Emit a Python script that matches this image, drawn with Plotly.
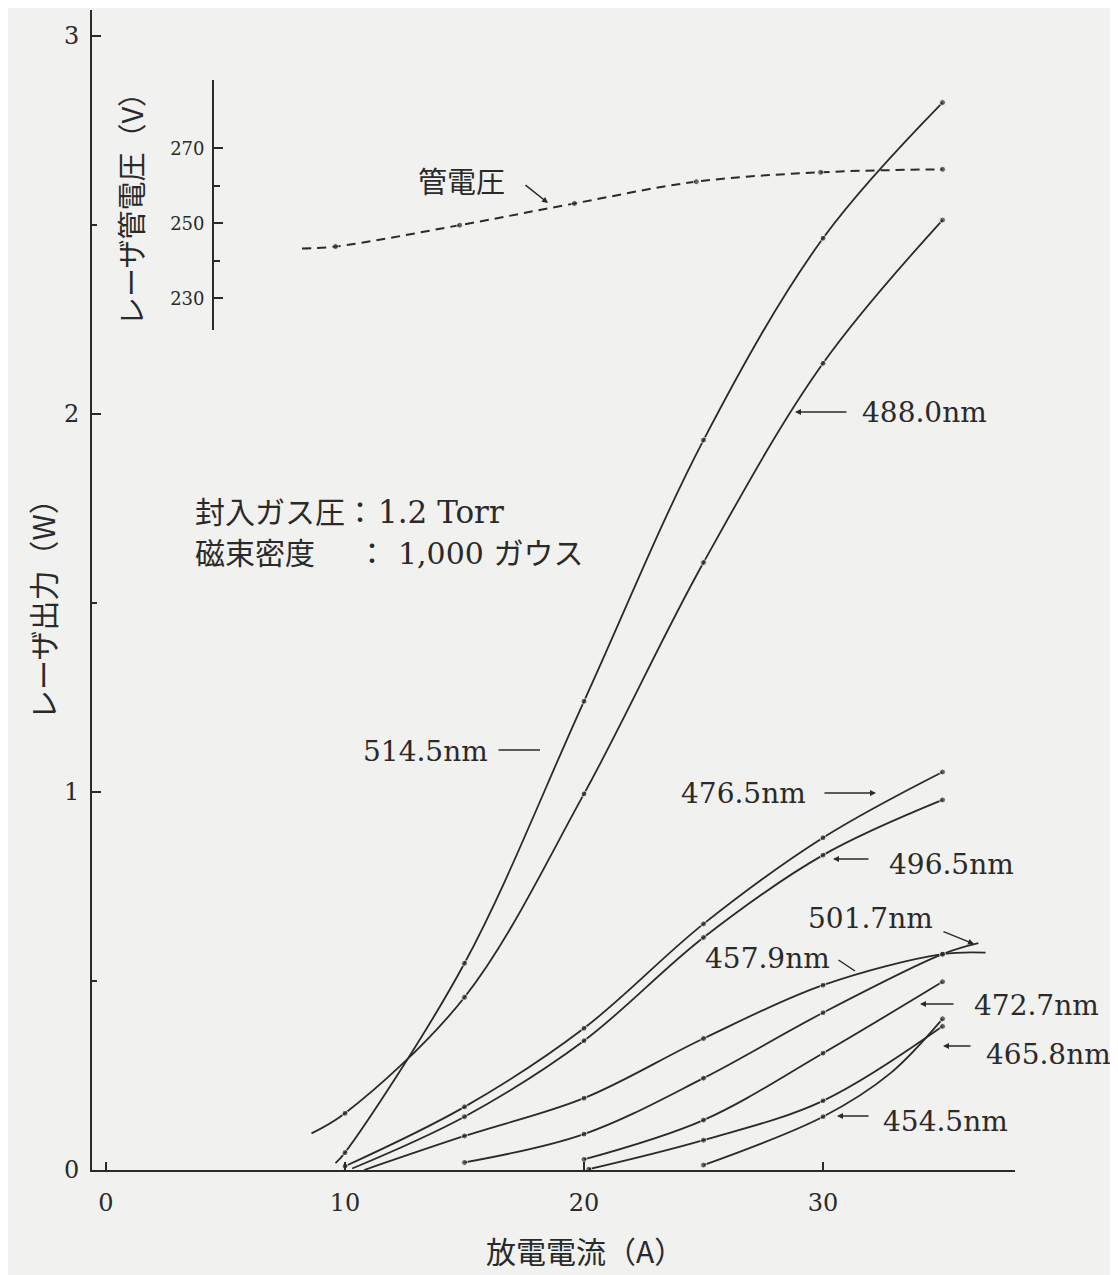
import plotly.graph_objects as go

# ---------------- data ----------------
# laser output power (W) vs discharge current (A)
x_488 = [8.6, 10, 15, 20, 25, 30, 35]
y_488 = [0.097, 0.15, 0.457, 0.995, 1.607, 2.134, 2.513]

x_514 = [9.6, 10, 15, 20, 25, 30, 35]
y_514 = [0.018, 0.046, 0.547, 1.24, 1.931, 2.465, 2.824]

x_476 = [10, 15, 20, 25, 30, 35]
y_476 = [0.01, 0.167, 0.375, 0.651, 0.879, 1.053]

x_496 = [10.3, 15, 20, 25, 30, 35]
y_496 = [0.004, 0.141, 0.342, 0.615, 0.833, 0.979]

x_457 = [10.8, 15, 20, 25, 30, 35, 36.8]
y_457 = [0.0, 0.09, 0.19, 0.348, 0.489, 0.571, 0.575]

x_501 = [15, 20, 25, 30, 35, 36.5]
y_501 = [0.02, 0.095, 0.243, 0.416, 0.571, 0.60]

x_472 = [20, 25, 30, 35]
y_472 = [0.028, 0.132, 0.309, 0.498]

x_465 = [20.2, 25, 30, 35]
y_465 = [0.002, 0.079, 0.183, 0.38]

x_454 = [25, 30, 32.8, 35]
y_454 = [0.013, 0.141, 0.255, 0.40]

# tube voltage (V) vs discharge current (A)
x_volt = [8.2, 9.6, 14.8, 19.6, 24.7, 29.9, 35.0]
y_volt = [243.3, 243.8, 249.5, 255.3, 261.1, 263.6, 264.4]

# indices of points that are only line (no measured dot)
series = [
    ("488.0nm", x_488, y_488, [0]),
    ("514.5nm", x_514, y_514, [0]),
    ("476.5nm", x_476, y_476, []),
    ("496.5nm", x_496, y_496, [0]),
    ("457.9nm", x_457, y_457, [0, 6]),
    ("501.7nm", x_501, y_501, [5]),
    ("472.7nm", x_472, y_472, []),
    ("465.8nm", x_465, y_465, []),
    ("454.5nm", x_454, y_454, [2]),
]
volt_unmarked = [0]

x_ticks = [0, 10, 20, 30]
y_ticks = [0, 1, 2, 3]
v_ticks = [230, 250, 270]

# ---------------- styling / layout ----------------
OFF = 8                       # page body margin of the html page
W, H = 1118 - OFF, 1275 - OFF
PL, PR, PT, PB = 92, 1015, 10, 1170   # plot area in reference pixels
INK = "#2a2a2a"
BG = "#f1f1ef"
LATIN = "DejaVu Serif, Noto Sans CJK JP"
CJK = "Noto Sans CJK JP, DejaVu Serif"


def px(xp, yp):
    return (xp - PL) / (PR - PL), (PB - yp) / (PB - PT)


fig = go.Figure()

for name, xs, ys, skip in series:
    sizes = [0 if i in skip else 6 for i in range(len(xs))]
    fig.add_trace(go.Scatter(
        x=xs, y=ys, name=name, mode="lines+markers",
        line=dict(color=INK, width=1.8, shape="spline", smoothing=1.0),
        marker=dict(color=INK, size=sizes),
        showlegend=False, cliponaxis=False))

fig.add_trace(go.Scatter(
    x=x_volt, y=y_volt, name="管電圧", mode="lines+markers",
    xaxis="x", yaxis="y2",
    line=dict(color=INK, width=2, dash="9px,6px", shape="spline"),
    marker=dict(color=INK, size=[0 if i in volt_unmarked else 6 for i in range(len(x_volt))]),
    showlegend=False, cliponaxis=False))

x0 = 106
sx = 23.9
sy = 378.0
x_range = [(PL - x0) / sx, (PR - x0) / sx]
y_range = [0, (PB - PT) / sy]

# inset voltage axis: 270 at y=148, 250 at y=223.3, 230 at y=298.3 px
v_per_px = 20 / 75.0
inset_top, inset_bot = 80, 330
v_range = [250 - (inset_bot - 223.3) * v_per_px, 250 + (223.3 - inset_top) * v_per_px]
dom = [(PB - inset_bot) / (PB - PT), (PB - inset_top) / (PB - PT)]

fig.update_layout(
    width=W, height=H,
    margin=dict(l=PL - OFF, r=W - (PR - OFF), t=PT - OFF, b=H - (PB - OFF)),
    paper_bgcolor=BG, plot_bgcolor="rgba(0,0,0,0)",
    font=dict(family=LATIN, color=INK),
    xaxis=dict(range=x_range, tickvals=x_ticks, ticktext=[str(v) for v in x_ticks],
               ticks="inside", ticklen=8, tickwidth=1.5, tickcolor=INK,
               showline=True, linecolor=INK, linewidth=2, showgrid=False, zeroline=False,
               tickfont=dict(family=LATIN, size=24, color=INK), ticklabelstandoff=10),
    yaxis=dict(range=y_range, tickvals=y_ticks, ticktext=[str(v) for v in y_ticks],
               ticks="inside", ticklen=9, tickwidth=1.5, tickcolor=INK,
               minor=dict(tickvals=[0.5, 1.5, 2.5], ticks="inside", ticklen=5, tickcolor=INK),
               showline=True, linecolor=INK, linewidth=2, showgrid=False, zeroline=False,
               tickfont=dict(family=LATIN, size=24, color=INK), ticklabelstandoff=6),
    yaxis2=dict(domain=dom, range=v_range, anchor="free", position=(213 - PL) / (PR - PL),
                side="left", tickvals=v_ticks, ticktext=[str(v) for v in v_ticks],
                ticks="inside", ticklen=9, tickwidth=1.5, tickcolor=INK,
                minor=dict(tickvals=[240, 260], ticks="inside", ticklen=6, tickcolor=INK),
                showline=True, linecolor=INK, linewidth=1.8, showgrid=False, zeroline=False,
                tickfont=dict(family=LATIN, size=18, color=INK), ticklabelstandoff=4),
)

ann = []
labels = [
    ("488.0nm", 860, 413, "left", 28),
    ("514.5nm", 490, 751, "right", 28),
    ("476.5nm", 808, 793, "right", 28),
    ("496.5nm", 887, 864, "left", 28),
    ("501.7nm", 935, 918, "right", 28),
    ("457.9nm", 832, 959, "right", 28),
    ("472.7nm", 972, 1005, "left", 28),
    ("465.8nm", 984, 1054, "left", 28),
    ("454.5nm", 881, 1121, "left", 28),
    ("管電圧", 416, 183, "left", 29),
    ("封入ガス圧：", 193, 512, "left", 30),
    ("1.2 Torr", 376, 512, "left", 31),
    ("磁束密度", 193, 553, "left", 30),
    ("：", 355, 553, "left", 30),
    ("1,000 ガウス", 396, 553, "left", 30),
]
for t, xp, yp, anc, sz in labels:
    a, b = px(xp, yp)
    ann.append(dict(text=t, x=a, y=b, xref="paper", yref="paper", xanchor=anc,
                    yanchor="middle", showarrow=False, font=dict(family=LATIN, size=sz, color=INK)))

arrows = [  # head (x,y), tail (x,y), arrowhead
    ((795, 412), (848, 412), 2),
    ((540, 750), (497, 750), 0),
    ((876, 793), (823, 793), 2),
    ((833, 859), (870, 859), 2),
    ((974, 944), (942, 931), 2),
    ((855, 971), (837, 959), 0),
    ((920, 1004), (955, 1004), 2),
    ((943, 1046), (972, 1046), 2),
    ((837, 1116), (870, 1116), 2),
    ((548, 203), (524, 184), 2),
]
for (hx, hy), (tx, ty), head in arrows:
    a, b = px(hx, hy)
    ann.append(dict(text="", x=a, y=b, xref="paper", yref="paper", showarrow=True,
                    ax=tx - hx, ay=ty - hy, arrowhead=head, arrowsize=0.8, arrowwidth=1.5,
                    arrowcolor=INK, standoff=0, startstandoff=0))

# axis titles
for t, xp, yp, ang, sz in [("レーザ出力（W）", 42, 602, -90, 30),
                            ("レーザ管電圧（V）", 130, 202, -90, 29),
                            ("放電電流（A）", 585, 1250, 0, 30)]:
    a, b = px(xp, yp)
    ann.append(dict(text=t, x=a, y=b, xref="paper", yref="paper", textangle=ang,
                    xanchor="center", yanchor="middle",
                    showarrow=False, font=dict(family=CJK, size=sz, color=INK)))

fig.update_layout(annotations=ann)
fig.write_html("out.html")
